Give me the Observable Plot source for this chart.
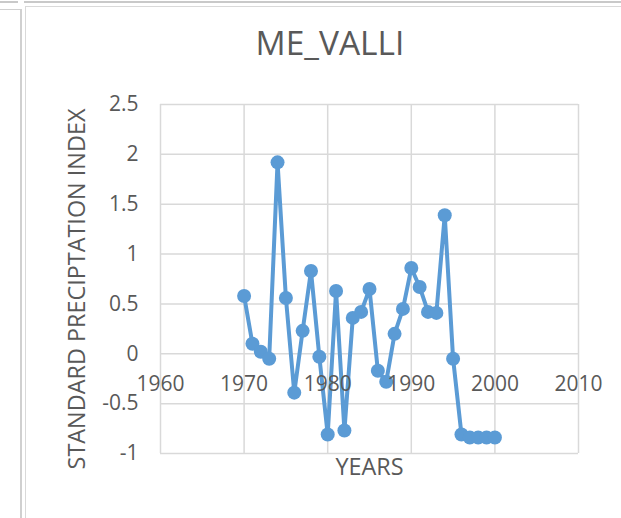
<!DOCTYPE html>
<html>
<head>
<meta charset="utf-8">
<script src="https://cdn.jsdelivr.net/npm/d3@7"></script>
<script src="https://cdn.jsdelivr.net/npm/@observablehq/plot@0.6"></script>
<style>
  html, body { margin: 0; padding: 0; background: #fff; }
  #wrap { position: relative; width: 621px; height: 518px; overflow: hidden; font-family: "Open Sans", sans-serif; }
  .ln { position: absolute; }
  #title { position: absolute; left: 0; width: 660px; top: 26px; text-align: center; font-size: 33.5px; color: #595959; line-height: 1; }
  #chart { position: absolute; left: 0; top: 0; }
</style>
</head>
<body>
<div id="wrap">
  <div class="ln" style="left:0;top:1px;width:18px;height:2px;background:#c9c9c9"></div>
  <div class="ln" style="left:24px;top:1px;width:600px;height:2px;background:#c9c9c9"></div>
  <div class="ln" style="left:0;top:9px;width:22px;height:1px;background:#d0d0d0"></div>
  <div class="ln" style="left:20px;top:9px;width:2px;height:520px;background:#d0d0d0"></div>
  <div class="ln" style="left:26px;top:6px;width:600px;height:1px;background:#d9d9d9"></div>
  <div class="ln" style="left:25px;top:6px;width:1px;height:520px;background:#d9d9d9"></div>
  <div id="chart"></div>
  <div id="title">ME_VALLI</div>
</div>
<script>
const chartTitle = "ME_VALLI";
const xLabel = "YEARS";
const yLabel = "STANDARD PRECIPTATION INDEX";
const years = [1970,1971,1972,1973,1974,1975,1976,1977,1978,1979,1980,1981,1982,1983,1984,1985,1986,1987,1988,1989,1990,1991,1992,1993,1994,1995,1996,1997,1998,1999,2000];
const spi   = [0.58,0.10,0.02,-0.05,1.92,0.56,-0.39,0.23,0.83,-0.03,-0.81,0.63,-0.77,0.36,0.42,0.65,-0.17,-0.28,0.20,0.45,0.86,0.67,0.42,0.41,1.39,-0.05,-0.81,-0.84,-0.84,-0.84,-0.84];
const xTicks = [1960,1970,1980,1990,2000,2010];
const yTicks = [-1,-0.5,0,0.5,1,1.5,2,2.5];

const data = years.map((y, i) => ({year: y, v: spi[i]}));
const textColor = "#595959";
const gridColor = "#d9d9d9";
const lineColor = "#5B9BD5";

const plot = Plot.plot({
  width: 621,
  height: 518,
  marginTop: 104,
  marginBottom: 65,
  marginLeft: 160,
  marginRight: 43,
  style: {fontFamily: "Open Sans, sans-serif", background: "transparent", overflow: "visible"},
  x: {domain: [1960, 2010], axis: null},
  y: {domain: [-1, 2.5], axis: null},
  marks: [
    Plot.gridX(xTicks, {stroke: gridColor, strokeOpacity: 1, strokeWidth: 1.5}),
    Plot.gridY(yTicks, {stroke: gridColor, strokeOpacity: 1, strokeWidth: 1.5}),
    Plot.axisY(yTicks, {tickSize: 0, tickPadding: 22, fontSize: 21, fill: textColor, label: null, tickFormat: d => String(d)}),
    Plot.line(data, {x: "year", y: "v", stroke: lineColor, strokeWidth: 4, strokeLinejoin: "round"}),
    Plot.dot(data, {x: "year", y: "v", r: 7, fill: lineColor, stroke: "none"}),
    Plot.text(xTicks, {x: d => d, y: 0, dy: 30, text: d => String(d), fontSize: 21, fill: textColor}),
    Plot.text([xLabel], {frameAnchor: "bottom", dy: 21, text: d => d, fontSize: 23.4, fill: textColor}),
    Plot.text([yLabel], {frameAnchor: "left", textAnchor: "middle", dx: -83, dy: 10, rotate: -90, text: d => d, fontSize: 23.4, fill: textColor})
  ]
});
document.getElementById("chart").appendChild(plot);
document.getElementById("title").textContent = chartTitle;
</script>
</body>
</html>
